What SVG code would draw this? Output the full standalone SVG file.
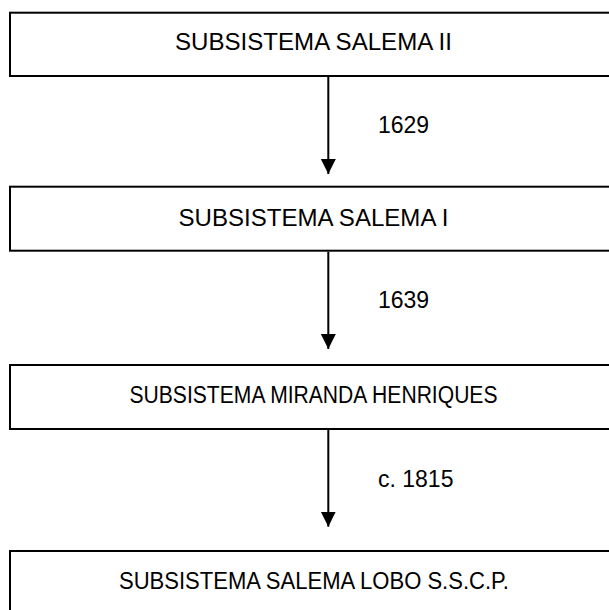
<svg xmlns="http://www.w3.org/2000/svg" width="609" height="610" viewBox="0 0 609 610">
<defs>
<marker id="ah" markerWidth="16" markerHeight="16" refX="15" refY="7.5" orient="auto" markerUnits="userSpaceOnUse">
<path d="M0,0 L15,7.5 L0,15 Z" fill="#000"/>
</marker>
<style>
.box{fill:#fff;stroke:#000;stroke-width:2}
.t{font-family:"Liberation Sans",Arial,sans-serif;font-size:23.5px;fill:#000;text-anchor:middle}
.l{font-family:"Liberation Sans",Arial,sans-serif;font-size:23px;fill:#000}
.c{stroke:#000;stroke-width:2;fill:none}
</style>
</defs>
<rect width="609" height="610" fill="#fff"/>
<g id="n1"><rect class="box" x="10" y="12.7" width="620" height="63.3"/><text class="t" x="313.5" y="50" textLength="277" lengthAdjust="spacingAndGlyphs">SUBSISTEMA SALEMA II</text></g>
<g id="n2"><rect class="box" x="10" y="186.7" width="620" height="64"/><text class="t" x="313.5" y="226" textLength="270" lengthAdjust="spacingAndGlyphs">SUBSISTEMA SALEMA I</text></g>
<g id="n3"><rect class="box" x="10" y="365" width="620" height="64"/><text class="t" x="313.5" y="403" textLength="368" lengthAdjust="spacingAndGlyphs">SUBSISTEMA MIRANDA HENRIQUES</text></g>
<g id="n4"><rect class="box" x="10" y="551" width="620" height="64"/><text class="t" x="314" y="589" textLength="390" lengthAdjust="spacingAndGlyphs">SUBSISTEMA SALEMA LOBO S.S.C.P.</text></g>
<g id="connectors">
<line class="c" x1="328.3" y1="77" x2="328.3" y2="174" marker-end="url(#ah)"/>
<line class="c" x1="328.3" y1="251.7" x2="328.3" y2="349" marker-end="url(#ah)"/>
<line class="c" x1="328.3" y1="430" x2="328.3" y2="526.7" marker-end="url(#ah)"/>
<text class="l" x="378" y="133">1629</text>
<text class="l" x="378" y="308">1639</text>
<text class="l" x="378" y="487">c. 1815</text>
</g>
</svg>
